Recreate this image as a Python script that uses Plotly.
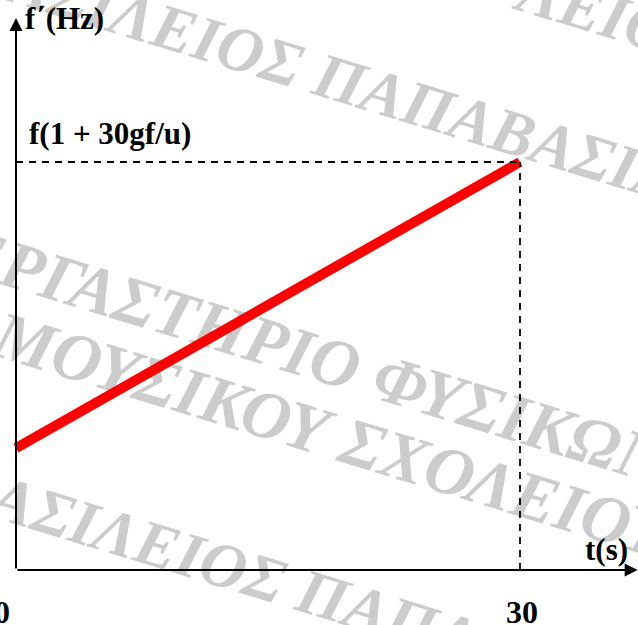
import plotly.graph_objects as go

# ---- data ----
t_values = [0, 30]
f_values = [1.0, 3.35]
x_label = "t(s)"
y_label = "f΄(Hz)"
f_end_label = "f(1 + 30gf/u)"
x_tick_labels = ["0", "30"]
watermark_texts = ["ΒΑΣΙΛΕΙΟΣ ΠΑΠΑΒΑΣΙΛΕΙΟΥ", "ΕΡΓΑΣΤΗΡΙΟ ΦΥΣΙΚΩΝ",
                   "ΜΟΥΣΙΚΟΥ ΣΧΟΛΕΙΟΥ", "ΒΑΣΙΛΕΙΟΣ ΠΑΠΑΒΑΣΙΛΕΙΟΥ", "ΛΕΙΟΥ"]
watermark_centers_px = [(397, 90), (315, 349), (333, 428), (380, 606), (615, 10)]
watermark_sizes = [64, 68, 68, 64, 64]

W, H = 638, 625
X_RANGE = [-0.952, 37.024]
Y_RANGE = [-0.4516, 4.680]

def px(x):  # pixel -> paper
    return x / W

def py(y):
    return 1 - y / H

fig = go.Figure()

# watermark (below the data)
shapes = []
for txt, (cx, cy), fs in zip(watermark_texts, watermark_centers_px, watermark_sizes):
    shapes.append(dict(
        type="rect", xref="paper", yref="paper",
        x0=px(cx - 5), x1=px(cx + 5), y0=py(cy + 5), y1=py(cy - 5),
        line=dict(width=0), fillcolor="rgba(0,0,0,0)", layer="below",
        label=dict(text="<b><i>" + txt + "</i></b>", textangle=17,
                   textposition="middle center",
                   font=dict(family="Liberation Serif", size=fs, color="#cccccc")),
    ))

# dashed guides from the end point
shapes.append(dict(type="line", xref="x", yref="y",
                   x0=0, x1=t_values[1], y0=f_values[1], y1=f_values[1],
                   line=dict(color="black", width=1.8, dash="7px,6px")))
shapes.append(dict(type="line", xref="x", yref="y",
                   x0=t_values[1], x1=t_values[1], y0=0, y1=f_values[1],
                   line=dict(color="black", width=1.8, dash="7px,6px")))

fig.add_trace(go.Scatter(x=t_values, y=f_values, mode="lines",
                         line=dict(color="#ff0000", width=10),
                         hoverinfo="skip", showlegend=False))

font_lbl = dict(family="Liberation Serif", size=31, color="black")
annotations = [
    # axes with arrows
    dict(x=X_RANGE[1] - 0.02, y=0, ax=0, ay=0, xref="x", yref="y", axref="x", ayref="y",
         text="", showarrow=True, arrowhead=2, arrowsize=1.3, arrowwidth=2, arrowcolor="black"),
    dict(x=0, y=4.532, ax=0, ay=0, xref="x", yref="y", axref="x", ayref="y",
         text="", showarrow=True, arrowhead=2, arrowsize=1.3, arrowwidth=2, arrowcolor="black"),
    # labels
    dict(x=px(23), y=py(19), xref="paper", yref="paper", text="<b>" + y_label + "</b>",
         showarrow=False, xanchor="left", yanchor="middle", font=font_lbl),
    dict(x=px(27), y=py(133), xref="paper", yref="paper", text="<b>" + f_end_label + "</b>",
         showarrow=False, xanchor="left", yanchor="middle", font=font_lbl),
    dict(x=px(606), y=py(549), xref="paper", yref="paper", text="<b>" + x_label + "</b>",
         showarrow=False, xanchor="center", yanchor="middle", font=font_lbl),
    dict(x=t_values[0], y=py(612), xref="x", yref="paper", xshift=-14,
         text="<b>" + x_tick_labels[0] + "</b>",
         showarrow=False, xanchor="center", yanchor="middle",
         font=dict(family="Liberation Serif", size=32, color="black")),
    dict(x=t_values[1], y=py(612), xref="x", yref="paper", xshift=2,
         text="<b>" + x_tick_labels[1] + "</b>",
         showarrow=False, xanchor="center", yanchor="middle",
         font=dict(family="Liberation Serif", size=32, color="black")),
]

fig.update_layout(
    width=W, height=H,
    margin=dict(l=0, r=0, t=0, b=0),
    paper_bgcolor="white", plot_bgcolor="white",
    xaxis=dict(range=X_RANGE, visible=False, fixedrange=True),
    yaxis=dict(range=Y_RANGE, visible=False, fixedrange=True),
    shapes=shapes, annotations=annotations,
)

fig.write_html("out.html", config={"displayModeBar": False},
               post_script="document.body.style.margin='0';document.body.style.overflow='hidden';")
